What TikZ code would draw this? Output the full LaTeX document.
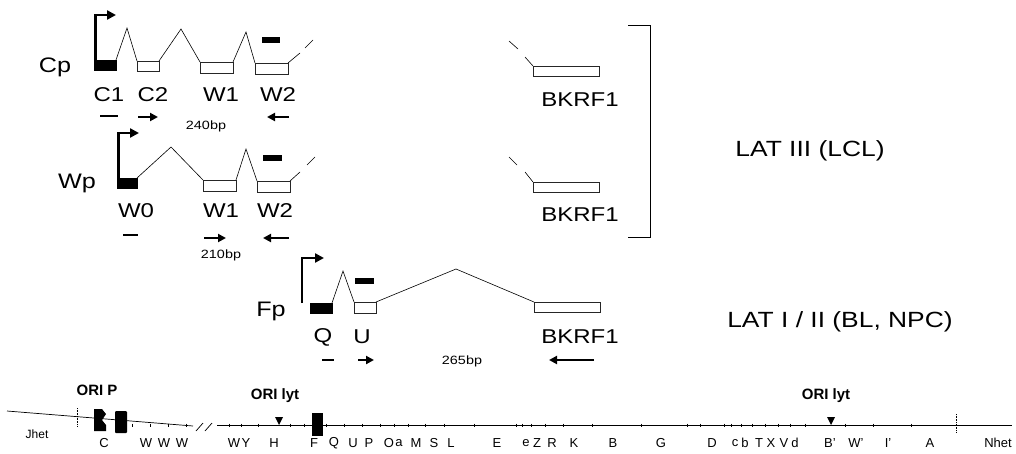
\documentclass[tikz,border=0pt]{standalone}
\usepackage{fontspec}
\setmainfont{Liberation Sans}
\newfontfamily\widefont[FakeStretch=1.2]{Liberation Sans}
\usetikzlibrary{arrows.meta}
\begin{document}
\begin{tikzpicture}[x=1pt,y=-1pt,
  exon/.style={draw=black!85, line width=0.6pt, fill=white, inner sep=0pt, outer sep=0pt, minimum height=10pt, anchor=north west},
  bexon/.style={draw=black, fill=black, inner sep=0pt, outer sep=0pt, minimum height=9pt, anchor=north west},
  bar/.style={draw=black, fill=black, inner sep=0pt, outer sep=0pt, minimum height=5pt, anchor=north west},
  splice/.style={line width=0.6pt},
  prom/.style={line width=2.6pt, -{Triangle[length=9pt,width=9pt]}},
  primer/.style={line width=2.8pt, -{Triangle[length=8pt,width=8pt]}},
  dashbar/.style={line width=2.8pt},
  lbl/.style={font=\widefont\fontsize{20}{20}\selectfont, inner sep=0pt},
  prm/.style={font=\widefont\fontsize{21}{21}\selectfont, inner sep=0pt},
  bp/.style={font=\widefont\fontsize{12}{12}\selectfont, inner sep=0pt},
  lat/.style={font=\widefont\fontsize{22}{22}\selectfont, inner sep=0pt},
  maplbl/.style={font=\fontsize{13}{13}\selectfont, inner sep=0pt},
  ori/.style={font=\bfseries\fontsize{15}{15}\selectfont, inner sep=0pt},
  tick/.style={line width=0.7pt}
]
\useasboundingbox (0,0) rectangle (1016,453);

% ---------------- Row 1: Cp ----------------
\node[prm] (cp) at (55,67) {Cp};
\node[bexon, minimum width=22pt, minimum height=10pt] (c1) at (94,60) {};
\node[exon, minimum width=22pt] (c2) at (137,61) {};
\node[exon, minimum width=33pt, minimum height=11pt] (w1a) at (200,62) {};
\node[exon, minimum width=33pt, minimum height=11pt] (w2a) at (255,63) {};
\node[bar, minimum width=17pt] (bara) at (262,37) {};
\node[exon, minimum width=66pt] (bk1) at (533,66) {};
\coordinate (pa1) at (127,28);
\coordinate (pa2) at (181,29);
\coordinate (pa3) at (246,32);
\coordinate (ta1) at (300,53);
\coordinate (ta2) at (305,48);
\coordinate (ta3) at (313,40);
\coordinate (ua1) at (509,41);
\coordinate (ua2) at (518,49);
\coordinate (ua3) at (525,57);
\coordinate (cpa) at (116,15);
\draw[splice] (c1.north east) -- (pa1) -- (c2.north west);
\draw[splice] (c2.north east) -- (pa2) -- (w1a.north west);
\draw[splice] (w1a.north east) -- (pa3) -- (w2a.north west);
\draw[splice] (w2a.north east) -- (ta1);
\draw[splice] (ta2) -- (ta3);
\draw[splice] (ua1) -- (ua2);
\draw[splice] (ua3) -- (bk1.north west);
\draw[prom] ([xshift=1.3pt]c1.south west) |- (cpa);
\node[lbl] (lc1) at (109,95) {C1};
\node[lbl] (lc2) at (153,95) {C2};
\node[lbl] (lw1a) at (221,95) {W1};
\node[lbl] (lw2a) at (278,95) {W2};
\node[lbl] (lbk1) at (580,100) {BKRF1};
\coordinate (da1) at (100,116); \coordinate (da2) at (118,116);
\coordinate (ra1) at (138,117); \coordinate (ra2) at (158,117);
\coordinate (la1) at (289,117); \coordinate (la2) at (267,117);
\draw[dashbar] (da1) -- (da2);
\draw[primer] (ra1) -- (ra2);
\draw[primer] (la1) -- (la2);
\node[bp] (bp240) at (206,126) {240bp};

% ---------------- Row 2: Wp ----------------
\node[prm] (wp) at (77,183) {Wp};
\node[bexon, minimum width=20pt, minimum height=10pt] (w0) at (117,178) {};
\node[exon, minimum width=33pt, minimum height=11pt] (w1b) at (203,180) {};
\node[exon, minimum width=33pt, minimum height=11pt] (w2b) at (257,181) {};
\node[bar, minimum width=18pt] (barb) at (263,155) {};
\node[exon, minimum width=66pt] (bk2) at (533,182) {};
\coordinate (pb1) at (171,147);
\coordinate (pb2) at (246,149);
\coordinate (tb1) at (300,172);
\coordinate (tb2) at (307,165);
\coordinate (tb3) at (315,157);
\coordinate (ub1) at (509,157);
\coordinate (ub2) at (517,165);
\coordinate (ub3) at (525,172);
\coordinate (wpa) at (139,133);
\draw[splice] (w0.north east) -- (pb1) -- (w1b.north west);
\draw[splice] (w1b.north east) -- (pb2) -- (w2b.north west);
\draw[splice] (w2b.north east) -- (tb1);
\draw[splice] (tb2) -- (tb3);
\draw[splice] (ub1) -- (ub2);
\draw[splice] (ub3) -- (bk2.north west);
\draw[prom] ([xshift=1.3pt]w0.south west) |- (wpa);
\node[lbl] (lw0) at (136,211) {W0};
\node[lbl] (lw1b) at (221,211) {W1};
\node[lbl] (lw2b) at (275,211) {W2};
\node[lbl] (lbk2) at (580,215) {BKRF1};
\coordinate (db1) at (123,235); \coordinate (db2) at (138,235);
\coordinate (rb1) at (204,238); \coordinate (rb2) at (226,238);
\coordinate (lb1) at (289,238); \coordinate (lb2) at (263,238);
\draw[dashbar] (db1) -- (db2);
\draw[primer] (rb1) -- (rb2);
\draw[primer] (lb1) -- (lb2);
\node[bp] (bp210) at (221,255) {210bp};

% ---------------- Row 3: Fp ----------------
\node[prm] (fp) at (271,311) {Fp};
\node[bexon, minimum width=22pt, minimum height=10pt] (q) at (310,303) {};
\node[exon, minimum width=22pt, minimum height=11pt] (u) at (354,302) {};
\node[bar, minimum width=18pt] (barc) at (355,278) {};
\node[exon, minimum width=66pt] (bk3) at (534,302) {};
\coordinate (pc1) at (343,271);
\coordinate (pc2) at (456,269);
\coordinate (fpb) at (302,303);
\coordinate (fpa) at (324,258);
\draw[splice] (q.north east) -- (pc1) -- (u.north west);
\draw[splice] (u.north east) -- (pc2) -- (bk3.north west);
\draw[prom] (fpb) |- (fpa);
\node[lbl] (lq) at (323,337) {Q};
\node[lbl] (lu) at (362,337) {U};
\node[lbl] (lbk3) at (580,337) {BKRF1};
\coordinate (dc1) at (322,360); \coordinate (dc2) at (334,360);
\coordinate (rc1) at (358,360); \coordinate (rc2) at (374,360);
\coordinate (lc1a) at (594,360); \coordinate (lc2a) at (549,360);
\draw[dashbar] (dc1) -- (dc2);
\draw[primer] (rc1) -- (rc2);
\draw[primer] (lc1a) -- (lc2a);
\node[bp] (bp265) at (462,361) {265bp};

% ---------------- Bracket and latency labels ----------------
\coordinate (br1) at (628,25);
\coordinate (br2) at (650,25);
\coordinate (br3) at (650,237);
\coordinate (br4) at (628,237);
\draw[line width=0.9pt] (br1) -- (br2) -- (br3) -- (br4);
\node[lat] (lat3) at (810,151) {LAT III (LCL)};
\node[lat] (lat12) at (840,322) {LAT I / II (BL, NPC)};

% ---------------- Genome map ----------------
\coordinate (m0) at (7,411);
\coordinate (m1) at (193,426);
\coordinate (m2) at (217,425);
\coordinate (m3) at (1012,425);
\draw[line width=0.7pt] (m0) -- (m1);
\draw[line width=0.7pt] (m2) -- (m3);
\draw[line width=0.7pt] (196,431) -- (203,423);
\draw[line width=0.7pt] (205,431) -- (212,423);
\draw[line width=0.6pt, densely dotted] (77,408) -- (77,426);
\draw[line width=0.6pt, densely dotted] (956,414) -- (956,432);
\foreach \tx in {132,150,168,186,229,241,258,290,304,326,344,362,380,394,408,425,444,474,516,522,531,545,563,592,641,687,700,724,731,741,752,765,778,790,805,845,873,911}
  \draw[tick] (\tx,423.5) -- (\tx,426.5);
% ORI P blocks
\path[fill=black] (94,409) -- (102,409) -- (106,414) -- (102,420) -- (106,425) -- (106,431) -- (94,431) -- cycle;
\path[fill=black, rounded corners=1pt] (115,411) rectangle (127,433);
\path[fill=black] (312,413) rectangle (323,436);
% ORI lyt arrowheads
\path[fill=black] (275,417) -- (283,417) -- (279,425) -- cycle;
\path[fill=black] (827,417) -- (835,417) -- (831,425) -- cycle;
\node[ori] (orip) at (97,390) {ORI P};
\node[ori] (orily1) at (275,396) {ORI lyt};
\node[ori] (orily2) at (826,396) {ORI lyt};
\node[maplbl, font=\fontsize{12}{12}\selectfont] (jhet) at (37,434) {Jhet};
\foreach \t/\x [count=\i] in {C/104, W/146, W/164, W/182, W/234, Y/246, H/274, F/314, Q/334, U/353, P/369, O/389, a/399, M/416, S/434, L/451, E/497, e/526, Z/537, R/552, K/574, B/613, G/661, D/712, c/735, b/745, T/759, X/771, V/784, d/795, B'/830, W'/856, I'/888, A/930}
  \node[maplbl] (g\i) at (\x,443) {\t};
\node[maplbl] (nhet) at (998,443) {Nhet};
\end{tikzpicture}
\end{document}
